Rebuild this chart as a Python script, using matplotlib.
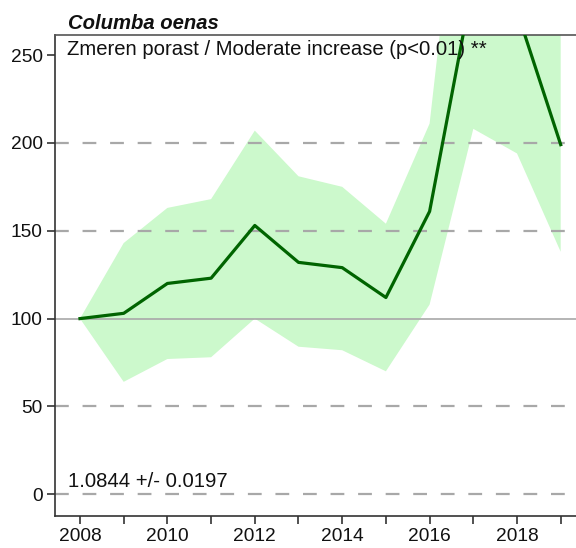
import matplotlib.pyplot as plt
import numpy as np

plt.rcParams["font.family"] = ["Liberation Sans", "DejaVu Sans"]

years = [2008, 2009, 2010, 2011, 2012, 2013, 2014, 2015, 2016, 2017, 2018, 2019]
index = [100, 103, 120, 123, 153, 132, 129, 112, 161, 292, 275, 199]
upper = [100, 143, 163, 168, 207, 181, 175, 154, 211, 430, 400, 300]
lower = [100, 64, 77, 78, 100, 84, 82, 70, 108, 208, 194, 138]

species = "Columba oenas"
trend_text = "Zmeren porast / Moderate increase (p<0.01) **"
slope_text = "1.0844 +/- 0.0197"

fig = plt.figure(figsize=(5.76, 5.48), dpi=100)
ax = fig.add_axes([0.096, 0.0584, 0.904, 0.8777])

ax.fill_between(years, lower, upper, color="#ccf9cc", linewidth=0, zorder=1)
# dashed reference lines (no line at 250 in the original)
for y in [0, 50, 150, 200]:
    ax.axhline(y, color="#a8a8a8", linewidth=1.6, dashes=(6.2, 6.2), zorder=2)
ax.axhline(100, color="#a8a8a8", linewidth=1.2, zorder=2)
ax.plot(years, index, color="#006400", linewidth=2.3, zorder=3)

ax.set_xlim(2007.435, 2019.35)
ax.set_ylim(-12.35, 261.4)
ax.set_xticks(range(2008, 2020))
ax.set_xticklabels([str(y) if y % 2 == 0 else "" for y in range(2008, 2020)])
ax.set_yticks([0, 50, 100, 150, 200, 250])

ax.spines["right"].set_visible(False)
for s in ["left", "bottom", "top"]:
    ax.spines[s].set_color("#333333")
    ax.spines[s].set_linewidth(1.2)
ax.spines["top"].set_color("#555555")
ax.tick_params(direction="out", length=6, width=1.2, color="#333333",
               labelsize=13.8, pad=3, labelcolor="#111111")

ax.text(0.022, 0.958, trend_text, transform=ax.transAxes, ha="left",
        va="baseline", fontsize=14.6, color="#111111")
ax.text(0.025, 0.061, slope_text, transform=ax.transAxes, ha="left",
        va="baseline", fontsize=14.6, color="#111111")
fig.text(0.118, 0.947, species, ha="left", va="baseline", fontsize=14.6,
         fontweight="bold", fontstyle="italic", color="#111111")

fig.savefig("out.png", dpi=100)
